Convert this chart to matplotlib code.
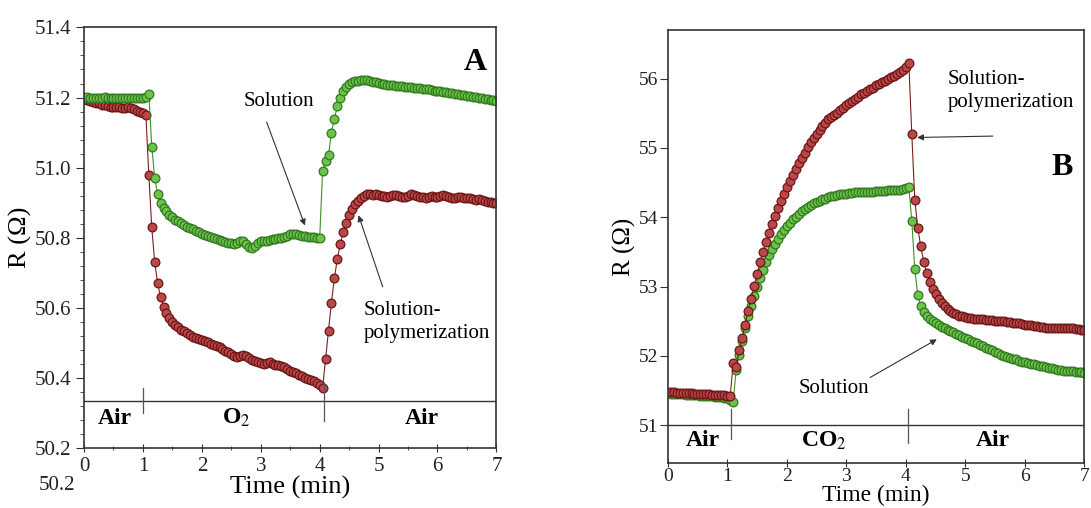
import numpy as np
import matplotlib.pyplot as plt
from matplotlib.ticker import MultipleLocator

plt.rcParams['font.family'] = ['Liberation Serif', 'DejaVu Serif']
plt.rcParams['mathtext.fontset'] = 'stix'

# time axis shared by all four series (min)
t = np.round(np.arange(0, 7.001, 0.05), 2)

# panel A - O2 exposure
solution_a = [
    51.200, 51.201, 51.199, 51.200, 51.200, 51.199, 51.200, 51.201, 51.200, 51.199,
    51.200, 51.200, 51.199, 51.200, 51.200, 51.199, 51.199, 51.200, 51.200, 51.199,
    51.200, 51.201, 51.210, 51.060, 50.970, 50.925, 50.900, 50.885, 50.875, 50.865,
    50.858, 50.852, 50.847, 50.842, 50.837, 50.832, 50.828, 50.824, 50.820, 50.816,
    50.812, 50.808, 50.805, 50.802, 50.800, 50.797, 50.794, 50.791, 50.789, 50.786,
    50.784, 50.782, 50.786, 50.792, 50.790, 50.781, 50.774, 50.770, 50.776, 50.786,
    50.790, 50.791, 50.792, 50.794, 50.795, 50.796, 50.798, 50.800, 50.802, 50.806,
    50.810, 50.811, 50.810, 50.808, 50.806, 50.804, 50.803, 50.802, 50.801, 50.800,
    50.798, 50.990, 51.020, 51.035, 51.100, 51.140, 51.175, 51.200, 51.218, 51.230,
    51.238, 51.243, 51.246, 51.248, 51.250, 51.250, 51.249, 51.247, 51.245, 51.243,
    51.241, 51.239, 51.238, 51.237, 51.236, 51.235, 51.234, 51.233, 51.232, 51.231,
    51.230, 51.229, 51.228, 51.227, 51.226, 51.225, 51.224, 51.223, 51.222, 51.220,
    51.219, 51.218, 51.216, 51.215, 51.214, 51.212, 51.211, 51.210, 51.208, 51.207,
    51.205, 51.204, 51.202, 51.201, 51.199, 51.198, 51.196, 51.195, 51.193, 51.192,
    51.190]
solpoly_a = [
    51.195, 51.192, 51.190, 51.187, 51.185, 51.183, 51.180, 51.178, 51.176, 51.174,
    51.172, 51.172, 51.174, 51.171, 51.170, 51.173, 51.170, 51.167, 51.163, 51.160,
    51.156, 51.150, 50.980, 50.830, 50.730, 50.670, 50.630, 50.603, 50.585, 50.572,
    50.561, 50.552, 50.544, 50.538, 50.533, 50.528, 50.523, 50.518, 50.514, 50.511,
    50.508, 50.505, 50.502, 50.498, 50.494, 50.491, 50.487, 50.483, 50.478, 50.473,
    50.468, 50.463, 50.460, 50.463, 50.466, 50.462, 50.456, 50.452, 50.449, 50.446,
    50.443, 50.440, 50.442, 50.445, 50.440, 50.436, 50.438, 50.434, 50.430, 50.425,
    50.420, 50.417, 50.413, 50.409, 50.405, 50.401, 50.398, 50.394, 50.390, 50.386,
    50.380, 50.372, 50.455, 50.535, 50.615, 50.685, 50.740, 50.782, 50.815, 50.842,
    50.864, 50.882, 50.896, 50.906, 50.914, 50.920, 50.924, 50.926, 50.922, 50.925,
    50.921, 50.918, 50.920, 50.916, 50.919, 50.923, 50.921, 50.918, 50.915, 50.917,
    50.920, 50.924, 50.922, 50.919, 50.917, 50.915, 50.914, 50.916, 50.918, 50.917,
    50.915, 50.918, 50.921, 50.919, 50.916, 50.913, 50.912, 50.915, 50.917, 50.914,
    50.912, 50.913, 50.911, 50.909, 50.910, 50.907, 50.905, 50.903, 50.902, 50.900,
    50.898]

# panel B - CO2 exposure
solution_b = [
    51.460, 51.457, 51.455, 51.452, 51.450, 51.447, 51.444, 51.441, 51.438, 51.435,
    51.432, 51.429, 51.426, 51.423, 51.420, 51.417, 51.413, 51.409, 51.405, 51.400,
    51.390, 51.370, 51.340, 51.800, 52.020, 52.220, 52.400, 52.570, 52.720, 52.870,
    53.000, 53.130, 53.240, 53.350, 53.450, 53.540, 53.620, 53.690, 53.760, 53.820,
    53.870, 53.920, 53.970, 54.010, 54.050, 54.090, 54.120, 54.150, 54.180, 54.200,
    54.220, 54.240, 54.260, 54.270, 54.290, 54.300, 54.310, 54.320, 54.330, 54.330,
    54.340, 54.350, 54.350, 54.360, 54.360, 54.360, 54.370, 54.370, 54.370, 54.370,
    54.380, 54.380, 54.380, 54.380, 54.390, 54.390, 54.390, 54.400, 54.400, 54.410,
    54.420, 54.440, 53.950, 53.250, 52.880, 52.720, 52.630, 52.570, 52.530, 52.500,
    52.470, 52.440, 52.420, 52.400, 52.380, 52.360, 52.340, 52.320, 52.300, 52.280,
    52.260, 52.240, 52.220, 52.200, 52.180, 52.160, 52.140, 52.120, 52.100, 52.080,
    52.060, 52.040, 52.020, 52.000, 51.990, 51.970, 51.960, 51.950, 51.930, 51.920,
    51.910, 51.900, 51.890, 51.880, 51.870, 51.860, 51.850, 51.840, 51.830, 51.820,
    51.810, 51.800, 51.800, 51.790, 51.790, 51.780, 51.780, 51.770, 51.770, 51.770,
    51.760]
solpoly_b = [
    51.480, 51.478, 51.475, 51.473, 51.470, 51.468, 51.465, 51.463, 51.460, 51.458,
    51.455, 51.452, 51.450, 51.448, 51.445, 51.442, 51.440, 51.437, 51.435, 51.432,
    51.428, 51.420, 51.900, 51.840, 52.080, 52.260, 52.450, 52.650, 52.820, 53.010,
    53.180, 53.350, 53.500, 53.640, 53.780, 53.900, 54.020, 54.130, 54.240, 54.340,
    54.430, 54.520, 54.610, 54.700, 54.780, 54.860, 54.930, 55.010, 55.080, 55.140,
    55.200, 55.260, 55.310, 55.360, 55.410, 55.450, 55.480, 55.510, 55.550, 55.580,
    55.620, 55.650, 55.680, 55.710, 55.740, 55.770, 55.790, 55.820, 55.850, 55.870,
    55.900, 55.920, 55.950, 55.970, 55.990, 56.020, 56.040, 56.070, 56.100, 56.130,
    56.170, 56.220, 55.200, 54.250, 53.850, 53.580, 53.360, 53.200, 53.070, 52.970,
    52.890, 52.820, 52.760, 52.720, 52.680, 52.650, 52.620, 52.600, 52.580, 52.570,
    52.560, 52.550, 52.550, 52.540, 52.540, 52.530, 52.530, 52.520, 52.520, 52.520,
    52.510, 52.510, 52.500, 52.500, 52.490, 52.490, 52.480, 52.470, 52.470, 52.460,
    52.450, 52.450, 52.440, 52.430, 52.430, 52.420, 52.420, 52.410, 52.410, 52.410,
    52.400, 52.400, 52.400, 52.400, 52.410, 52.400, 52.400, 52.390, 52.390, 52.380,
    52.380]

green = dict(color='#3f8f2a', lw=0.8, marker='o', ms=6.3,
             mfc='#6cc24a', mec='#2f7a1f', mew=0.9)
red = dict(color='#7a1f1f', lw=0.8, marker='o', ms=6.3,
           mfc='#b8484a', mec='#6e1515', mew=0.9)
arrow = dict(arrowstyle='-|>', lw=0.8, color='#333333', mutation_scale=9,
             shrinkA=0, shrinkB=0)

fig = plt.figure(figsize=(10.91, 5.08), dpi=100)
axA = fig.add_axes([0.077, 0.118, 0.378, 0.828])
axB = fig.add_axes([0.612, 0.089, 0.382, 0.852])

for ax in (axA, axB):
    for s in ax.spines.values():
        s.set_linewidth(1.2)
        s.set_color('#333333')
    ax.tick_params(axis='x', which='both', direction='inout', top=False,
                   colors='#333333', labelcolor='#222222')
    ax.tick_params(axis='y', which='both', direction='out', right=False,
                   colors='#333333', labelcolor='#222222')
    ax.set_xlim(0, 7)
    ax.xaxis.set_major_locator(MultipleLocator(1))

# ---- panel A
axA.plot(t, solpoly_a, **red)
axA.plot(t, solution_a, **green)
axA.set_ylim(50.2, 51.4)
axA.yaxis.set_major_locator(MultipleLocator(0.2))
axA.yaxis.set_minor_locator(MultipleLocator(0.04))
axA.xaxis.set_minor_locator(MultipleLocator(0.5))
axA.tick_params(which='major', length=6, labelsize=15)
axA.tick_params(which='minor', length=3)
axA.yaxis.set_major_formatter(plt.FormatStrFormatter('%.1f'))
axA.set_xlabel('Time (min)', fontsize=19, labelpad=0)
axA.set_ylabel('R (\u03a9)', fontsize=19)
axA.yaxis.set_label_coords(-0.125, 0.5)

axA.axhline(50.334, color='#333333', lw=1.0)
axA.plot([1.0, 1.0], [50.30, 50.37], color='#555555', lw=0.9)
axA.plot([4.07, 4.07], [50.277, 50.385], color='#555555', lw=0.9)
axA.text(0.53, 50.285, 'Air', fontsize=17, fontweight='bold', ha='center', va='center')
axA.text(2.58, 50.285, 'O$_2$', fontsize=17, fontweight='bold', ha='center', va='center')
axA.text(5.74, 50.285, 'Air', fontsize=17, fontweight='bold', ha='center', va='center')
axA.text(6.65, 51.30, 'A', fontsize=23, fontweight='bold', ha='center', va='center')

axA.annotate('', xy=(3.75, 50.835), xytext=(3.1, 51.13), arrowprops=arrow)
axA.text(3.31, 51.19, 'Solution', fontsize=15, ha='center', va='center')
axA.annotate('', xy=(4.66, 50.864), xytext=(5.07, 50.66), arrowprops=arrow)
axA.text(4.75, 50.56, 'Solution-\npolymerization', fontsize=15,
         ha='left', va='center', linespacing=1.3)

fig.text(57 / 1091, 1 - 485 / 508, '50.2', fontsize=15, color='#222222',
         ha='center', va='center')

# ---- panel B
axB.plot(t, solution_b, **green)
axB.plot(t, solpoly_b, **red)
axB.set_ylim(50.46, 56.7)
axB.yaxis.set_major_locator(MultipleLocator(1))
axB.tick_params(which='major', length=6, labelsize=14, pad=1)
axB.set_xlabel('Time (min)', fontsize=17, labelpad=0)
axB.set_ylabel('R (\u03a9)', fontsize=18)
axB.yaxis.set_label_coords(-0.075, 0.5)

axB.axhline(51.0, color='#333333', lw=1.0)
axB.plot([1.06, 1.06], [50.8, 51.23], color='#555555', lw=0.9)
axB.plot([4.03, 4.03], [50.75, 51.23], color='#555555', lw=0.9)
axB.text(0.59, 50.78, 'Air', fontsize=17, fontweight='bold', ha='center', va='center')
axB.text(2.63, 50.78, 'CO$_2$', fontsize=17, fontweight='bold', ha='center', va='center')
axB.text(5.46, 50.78, 'Air', fontsize=17, fontweight='bold', ha='center', va='center')
axB.text(6.62, 54.72, 'B', fontsize=23, fontweight='bold', ha='center', va='center')

axB.annotate('', xy=(4.19, 55.15), xytext=(5.46, 55.17), arrowprops=arrow)
axB.text(4.7, 55.82, 'Solution-\npolymerization', fontsize=15,
         ha='left', va='center', linespacing=1.3)
axB.annotate('', xy=(4.52, 52.24), xytext=(3.4, 51.69), arrowprops=arrow)
axB.text(2.8, 51.53, 'Solution', fontsize=15, ha='center', va='center')

fig.savefig('out.png', dpi=100)
